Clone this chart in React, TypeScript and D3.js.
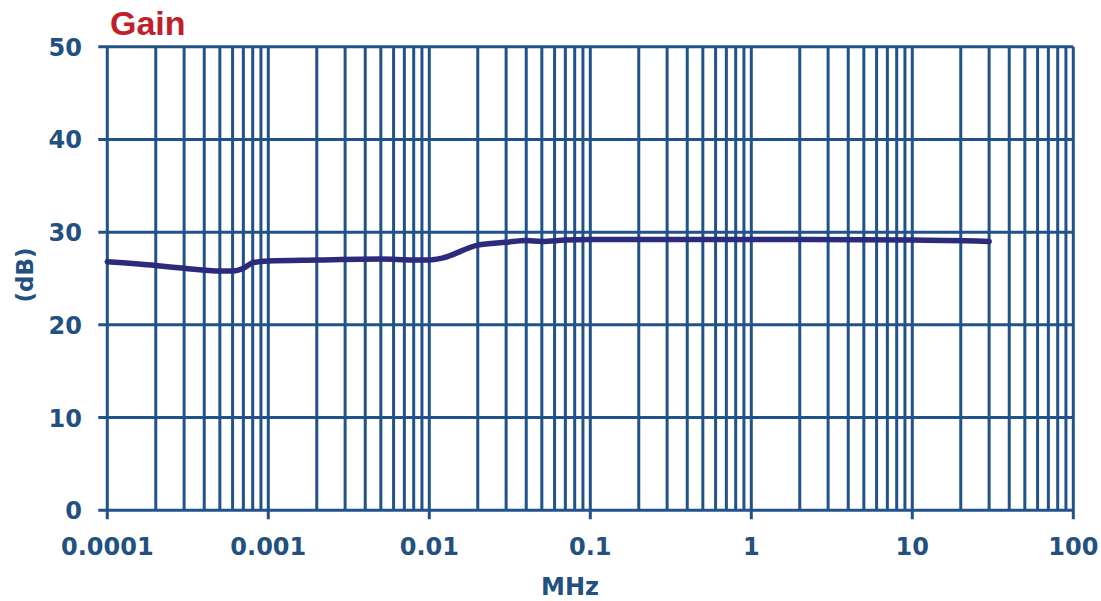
import React from "react";
import * as d3 from "d3";

const freqMHz = [0.0001, 0.0002, 0.0003, 0.0005, 0.0006, 0.0007, 0.0008, 0.001, 0.002, 0.005, 0.008, 0.01, 0.012, 0.02, 0.03, 0.04, 0.05, 0.07, 0.1, 1, 10, 30];
const gainDb = [26.8, 26.4, 26.1, 25.8, 25.8, 26.1, 26.7, 26.9, 27.0, 27.1, 27.0, 27.0, 27.2, 28.6, 28.9, 29.1, 29.0, 29.15, 29.2, 29.2, 29.15, 29.0];
const xTickValues = [0.0001, 0.001, 0.01, 0.1, 1, 10, 100];
const xTickLabels = ["0.0001", "0.001", "0.01", "0.1", "1", "10", "100"];
const yTickValues = [0, 10, 20, 30, 40, 50];

const W = 1101, H = 601;
const left = 107.3, right = 1073.3, top = 46.7, bottom = 510.3;
const gridColor = "#22528A";
const textColor = "#22507F";
const lineColor = "#2C2A7A";
const font = "'DejaVu Sans', sans-serif";
const titleFont = "'Liberation Sans', Arial, sans-serif";

export default function App() {
  const x = d3.scaleLog().domain([0.0001, 100]).range([left, right]);
  const y = d3.scaleLinear().domain([0, 50]).range([bottom, top]);
  const minor: number[] = [];
  for (let e = -4; e < 2; e++) {
    for (let m = 2; m <= 9; m++) minor.push(m * Math.pow(10, e));
  }
  const line = d3
    .line<number>()
    .x((_, i) => x(freqMHz[i]))
    .y((d) => y(d))
    .curve(d3.curveMonotoneX);
  return (
    <svg width={W} height={H} style={{ position: "absolute", left: 0, top: 0 }}>
      <rect width={W} height={H} fill="white" />
      {minor.map((v, i) => (
        <line key={"m" + i} x1={x(v)} x2={x(v)} y1={top} y2={bottom} stroke={gridColor} strokeWidth={3} />
      ))}
      {xTickValues.map((v, i) => (
        <line key={"M" + i} x1={x(v)} x2={x(v)} y1={top} y2={bottom + 9} stroke={gridColor} strokeWidth={3} />
      ))}
      {yTickValues.map((v, i) => (
        <line key={"h" + i} x1={left - 9} x2={right} y1={y(v)} y2={y(v)} stroke={gridColor} strokeWidth={3} />
      ))}
      <path d={line(gainDb) || ""} fill="none" stroke={lineColor} strokeWidth={5.5} strokeLinejoin="round" strokeLinecap="round" />
      {yTickValues.map((v, i) => (
        <text key={"yl" + i} x={82} y={y(v) + 9} textAnchor="end" fontFamily={font} fontWeight="bold" fontSize={24} fill={textColor}>
          {v}
        </text>
      ))}
      {xTickValues.map((v, i) => (
        <text key={"xl" + i} x={x(v)} y={555} textAnchor="middle" fontFamily={font} fontWeight="bold" fontSize={24} fill={textColor}>
          {xTickLabels[i]}
        </text>
      ))}
      <text x={570} y={595} textAnchor="middle" fontFamily={font} fontWeight="bold" fontSize={24} fill={textColor}>MHz</text>
      <text transform="translate(33,275) rotate(-90)" textAnchor="middle" fontFamily={font} fontWeight="bold" fontSize={23} fill={textColor}>(dB)</text>
      <text x={110} y={35} fontFamily={titleFont} fontWeight="bold" fontSize={34} fill="#C1202B">Gain</text>
    </svg>
  );
}
